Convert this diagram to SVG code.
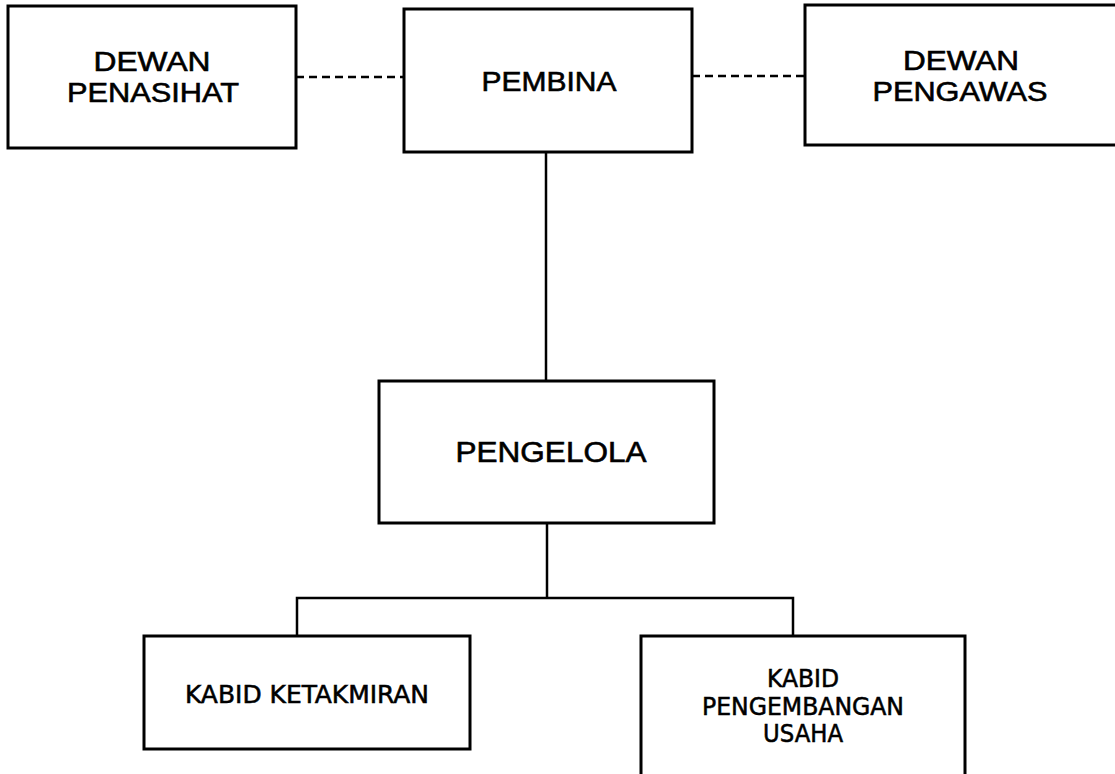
<svg xmlns="http://www.w3.org/2000/svg" width="1115" height="774" viewBox="0 0 1115 774">
<style>
.box{fill:#fff;stroke:#000;stroke-width:3}
.t{font-family:"Liberation Sans",Arial,sans-serif;font-size:27px;fill:#000;stroke:#000;stroke-width:0.6;text-anchor:middle}
.s{font-family:"DejaVu Sans Condensed","DejaVu Sans",sans-serif;font-size:24px;fill:#000;stroke:#000;stroke-width:0.5;text-anchor:middle}
.c{fill:none;stroke:#000;stroke-width:2.5}
.d{fill:none;stroke:#000;stroke-width:2.5;stroke-dasharray:8 5}
</style>
<rect width="1115" height="774" fill="#fff"/>
<g id="connectors">
<line class="d" x1="296" y1="77" x2="404" y2="77"/>
<line class="d" x1="692" y1="76" x2="805" y2="76"/>
<line class="c" x1="546" y1="152" x2="546" y2="381"/>
<line class="c" x1="547" y1="523" x2="547" y2="598"/>
<polyline class="c" points="297,636 297,598 793,598 793,636"/>
</g>
<g id="dewan-penasihat">
<rect class="box" x="8" y="6" width="288" height="142"/>
<text class="t" x="152" y="71" textLength="117" lengthAdjust="spacingAndGlyphs">DEWAN</text>
<text class="t" x="153" y="102" textLength="172" lengthAdjust="spacingAndGlyphs">PENASIHAT</text>
</g>
<g id="pembina">
<rect class="box" x="404" y="9" width="288" height="143"/>
<text class="t" x="549" y="91" textLength="135" lengthAdjust="spacingAndGlyphs">PEMBINA</text>
</g>
<g id="dewan-pengawas">
<rect class="box" x="805" y="5" width="320" height="140"/>
<text class="t" x="961" y="70" textLength="116" lengthAdjust="spacingAndGlyphs">DEWAN</text>
<text class="t" x="960" y="101" textLength="175" lengthAdjust="spacingAndGlyphs">PENGAWAS</text>
</g>
<g id="pengelola">
<rect class="box" x="379" y="381" width="335" height="142"/>
<text class="t" x="551" y="462" textLength="191" lengthAdjust="spacingAndGlyphs" style="font-size:29px">PENGELOLA</text>
</g>
<g id="kabid-ketakmiran">
<rect class="box" x="144" y="636" width="326" height="113"/>
<text class="s" x="307" y="703" textLength="244" lengthAdjust="spacingAndGlyphs">KABID KETAKMIRAN</text>
</g>
<g id="kabid-pengembangan-usaha">
<rect class="box" x="641" y="636" width="324" height="150"/>
<text class="s" x="803" y="687" textLength="72" lengthAdjust="spacingAndGlyphs">KABID</text>
<text class="s" x="803" y="715" textLength="202" lengthAdjust="spacingAndGlyphs">PENGEMBANGAN</text>
<text class="s" x="803" y="742" textLength="80" lengthAdjust="spacingAndGlyphs">USAHA</text>
</g>
</svg>
